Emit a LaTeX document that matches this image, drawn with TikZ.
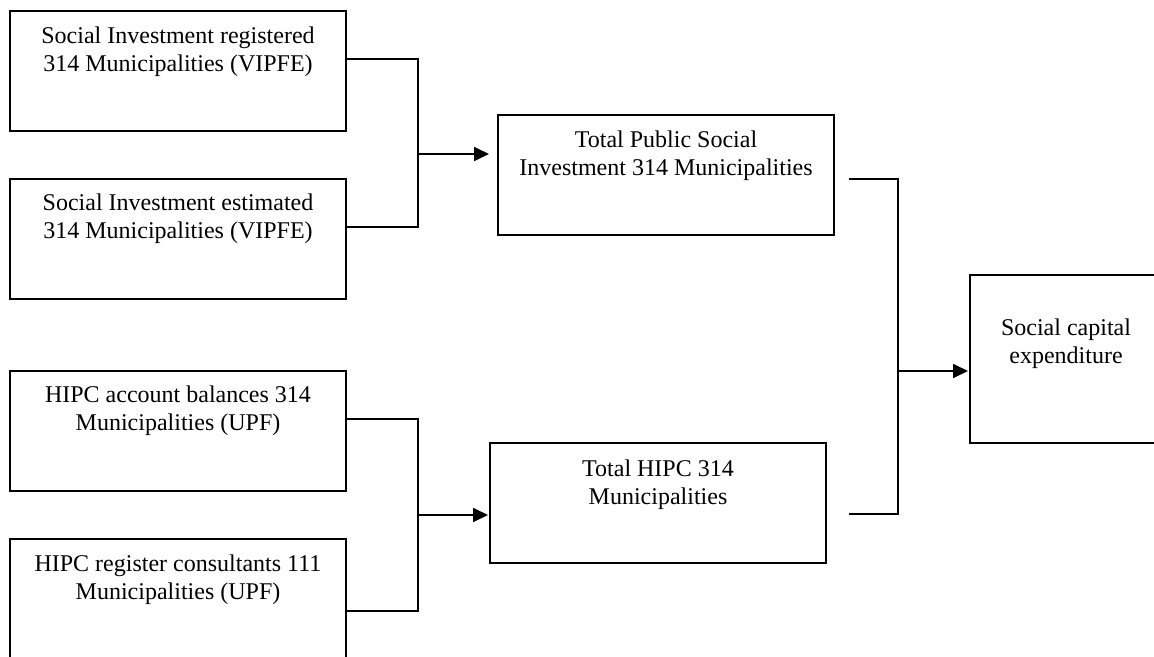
\documentclass[tikz,border=0pt]{standalone}
\usepackage{fontspec}
\setmainfont{Liberation Serif}
\usetikzlibrary{arrows.meta}
\begin{document}
\begin{tikzpicture}[x=1pt,y=-1pt,
  box/.style={draw=black, line width=2.4pt, rectangle, inner sep=0pt, outer sep=0pt, minimum width=336pt, minimum height=120pt, anchor=north west},
  txt/.style={anchor=north, inner sep=0pt, align=center, font=\fontsize{24}{28}\selectfont, text=black},
  conn/.style={draw=black, line width=2.2pt},
  arr/.style={draw=black, line width=1.8pt, -{Triangle[length=15pt,width=14pt]}}]
\useasboundingbox (0,0) rectangle (1154,656);
\clip (0,0) rectangle (1154,656);
% left column
\node[box] (b1) at (10,11) {};
\node[box] (b2) at (10,179) {};
\node[box] (b3) at (10,371) {};
\node[box] (b4) at (10,539) {};
% middle
\node[box] (bA) at (498,115) {};
\node[box] (bB) at (490,443) {};
% right
\node[box, minimum width=192pt, minimum height=168pt] (bR) at (970,275) {};
% texts
\node[txt, yshift=-15.6pt] (t1) at (b1.north) {Social Investment registered\\314 Municipalities (VIPFE)};
\node[txt, yshift=-14.6pt] (t2) at (b2.north) {Social Investment estimated\\314 Municipalities (VIPFE)};
\node[txt, yshift=-14.6pt] (t3) at (b3.north) {HIPC account balances 314\\Municipalities (UPF)};
\node[txt, yshift=-15.6pt] (t4) at (b4.north) {HIPC register consultants 111\\Municipalities (UPF)};
\node[txt, yshift=-15.6pt] (tA) at (bA.north) {Total Public Social\\Investment 314 Municipalities};
\node[txt, yshift=-16.6pt] (tB) at (bB.north) {Total HIPC 314\\Municipalities};
\node[txt, yshift=-43.6pt] (tR) at (bR.north) {Social capital\\expenditure};
% junctions
\coordinate (j1) at (418,154);
\coordinate (j2) at (418,515);
\coordinate (j3) at (898,371);
% connectors
\draw[conn] ([yshift=12pt]b1.east) -| (j1) |- ([yshift=12pt]b2.east);
\draw[arr] (j1) -- ([xshift=-9pt]bA.west |- j1);
\draw[conn] ([yshift=12pt]b3.east) -| (j2) |- ([yshift=-12pt]b4.east);
\draw[arr] (j2) -- ([xshift=-2pt]bB.west |- j2);
\draw[conn] ([xshift=15pt,yshift=-4pt]bA.east) -| (j3) |- ([xshift=23pt,yshift=-11pt]bB.east);
\draw[arr] (j3) -- ([xshift=-2pt]bR.west |- j3);
\end{tikzpicture}
\end{document}
